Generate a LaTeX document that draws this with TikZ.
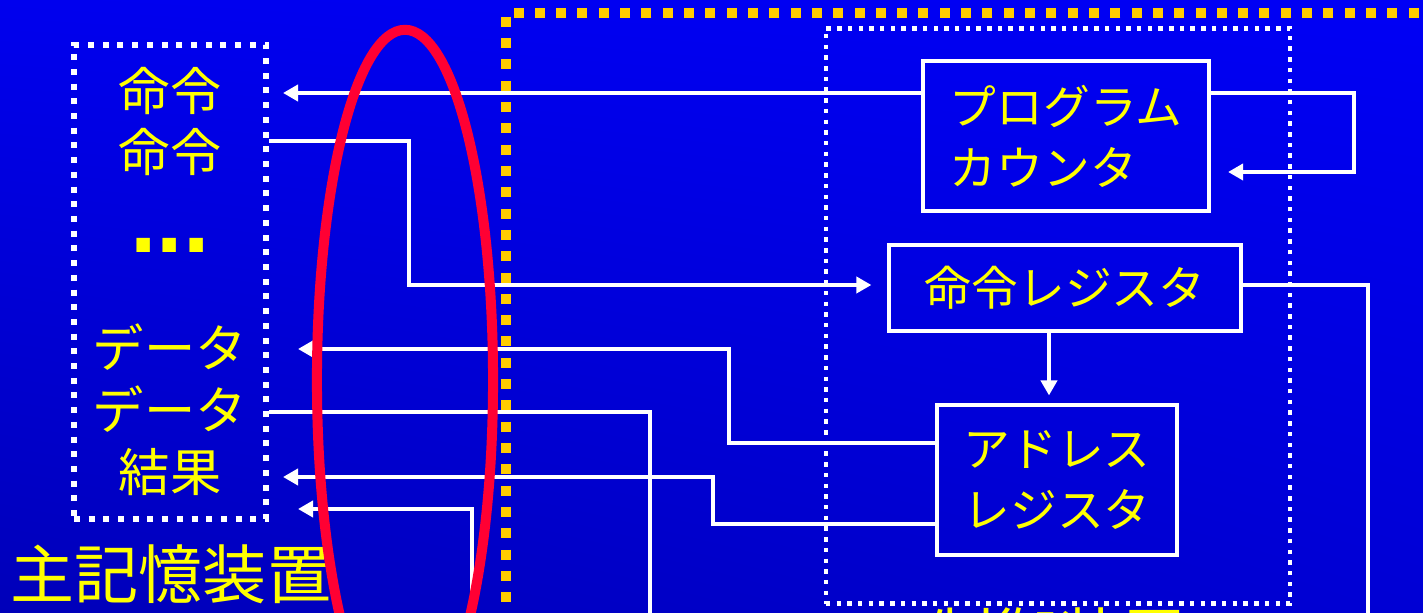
\documentclass[tikz,border=0pt]{standalone}
\usepackage{fontspec}
\setmainfont{Noto Sans CJK JP}
\newfontfamily\squaredots{Liberation Sans}
\usetikzlibrary{arrows.meta, shadings}

\definecolor{cpuyellow}{RGB}{255,204,0}
\definecolor{ringred}{RGB}{255,0,51}
\definecolor{textyellow}{RGB}{255,255,0}
\definecolor{bgUL}{RGB}{0,0,238}
\definecolor{bgUR}{RGB}{0,0,245}
\definecolor{bgLL}{RGB}{0,0,185}
\definecolor{bgLR}{RGB}{0,0,212}

\tikzset{
	wire/.style = {draw = white, line width = 0.04cm},
	regbox/.style = {draw = white, line width = 0.04cm,
					 text = textyellow, align = left, inner sep = 0pt,
					 font = \fontsize{13.3}{17.4}\selectfont},
	memitem/.style = {text = textyellow, inner sep = 0pt,
					  font = \fontsize{14.6}{18}\selectfont},
	bigtitle/.style = {text = textyellow, inner sep = 0pt,
					   font = \fontsize{18.2}{20}\selectfont},
	memframe/.style = {draw = white, line width = 0.06cm,
					   dash pattern = on 0.06cm off 0.087cm},
	ctrlframe/.style = {draw = white, line width = 0.045cm,
						dash pattern = on 0.045cm off 0.062cm},
	cpuframe/.style = {draw = cpuyellow, line width = 0.1cm,
					   dash pattern = on 0.1cm off 0.113cm},
}

\begin{document}
\begin{tikzpicture}[x = 0.01cm, y = -0.01cm,
					> = {Triangle[length = 0.15cm, width = 0.16cm]}]
	\useasboundingbox (0, 0) rectangle (1423, 613);
	\clip (0, 0) rectangle (1423, 613);
	\shade[upper left = bgUL, upper right = bgUR,
		   lower left = bgLL, lower right = bgLR]
		(0, 0) rectangle (1423, 613);

	% main memory
	\draw (170, 282) node[memframe, minimum width = 1.92cm,
						  minimum height = 4.74cm](mem) {};
	\draw (170, 91) node[memitem](instA) {命令};
	\draw (170, 152) node[memitem](instB) {命令};
	\draw (170, 253) node[memitem, anchor = base, text height = 0.12cm,
						  text depth = 0pt,
						  font = \squaredots\bfseries\fontsize{27}{27}\selectfont](gap) {...};
	\draw (170, 347) node[memitem](dataA) {データ};
	\draw (170, 409) node[memitem](dataB) {データ};
	\draw (170, 472) node[memitem](res) {結果};
	\draw (171, 574) node[bigtitle](memname) {主記憶装置};

	% control unit
	\draw (1058, 316) node[ctrlframe, minimum width = 4.64cm,
						   minimum height = 5.75cm](ctrl) {};
	\draw (1066, 136) node[regbox, minimum width = 2.86cm,
						   minimum height = 1.49cm](pc) {プログラム\\カウンタ};
	\draw (1065, 288) node[regbox, minimum width = 3.51cm,
						   minimum height = 0.85cm, align = center](ir) {命令レジスタ};
	\draw (1057, 480) node[regbox, minimum width = 2.39cm,
						   minimum height = 1.49cm](ar) {アドレス\\レジスタ};
	\draw (1058, 637) node[bigtitle](ctrlname) {制御装置};

	% arrow tips and free ends
	\coordinate (tipInst) at (283, 93);
	\coordinate (tipData) at (298, 349);
	\coordinate (tipRes) at (283, 477);
	\coordinate (tipLow) at (298, 509);
	\coordinate (aluIn) at (472, 650);
	\coordinate (aluData) at (650, 650);
	\coordinate (aluOp) at (1368, 650);

	\draw[wire, ->] (pc.west |- tipInst) -- (tipInst);
	\draw[wire, ->, shorten > = 0.17cm] (pc.east |- tipInst) -| (1354, 172)
		-- (pc.east |- 0, 172);
	\draw[wire, ->, shorten > = 0.16cm] (mem.east |- 0, 141) -| (409, 285)
		-- (ir.west |- 0, 285);
	\draw[wire] (ir.east |- 0, 285) -| (aluOp);
	\draw[wire, ->, shorten > = 0.08cm] (ir.south -| 1049, 0) -- (ar.north -| 1049, 0);
	\draw[wire, ->] (ar.west |- 0, 443) -| (729, 349) -- (tipData);
	\draw[wire] (mem.east |- 0, 412) -| (aluData);
	\draw[wire, ->] (ar.west |- 0, 524) -| (713, 477) -- (tipRes);
	\draw[wire, ->] (aluIn) |- (tipLow);

	% CPU frame and the bus ring
	\draw[cpuframe] (1440, 13) -- (506, 13) -- (506, 650);
	\draw[ringred, line width = 0.1cm] (405, 380) ellipse [x radius = 0.88cm,
														   y radius = 3.5cm];
\end{tikzpicture}
\end{document}
